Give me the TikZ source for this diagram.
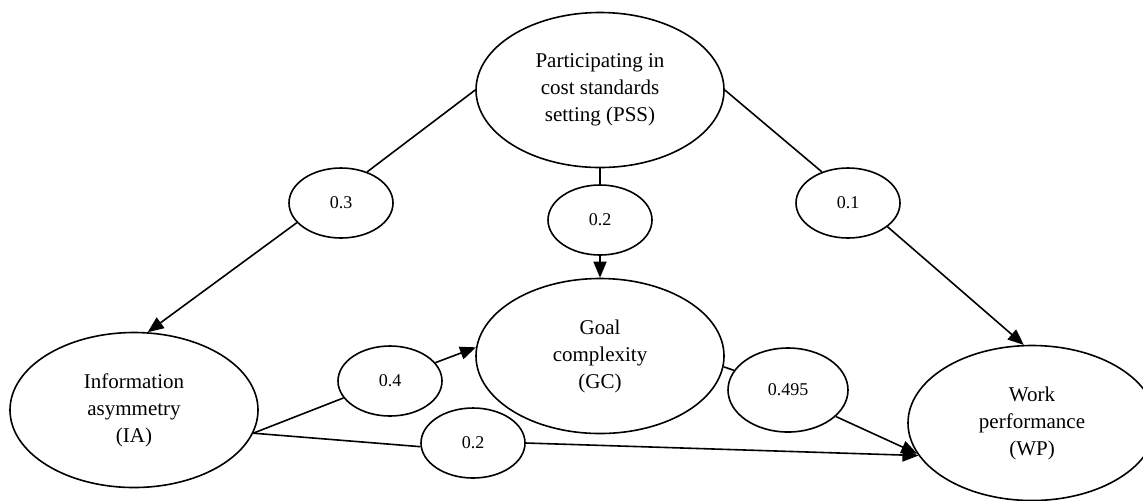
\documentclass[tikz,border=0pt]{standalone}
\usepackage{fontspec}
\setmainfont{Liberation Serif}
\usetikzlibrary{shapes.geometric,arrows.meta}
\begin{document}
\begin{tikzpicture}[x=0.5pt,y=-0.5pt,
  big/.style={ellipse,draw,line width=0.8pt,minimum width=124pt,minimum height=77.5pt,inner sep=0pt,align=center,font=\fontsize{10.5}{13.5}\selectfont},
  coef/.style={ellipse,draw,line width=0.8pt,minimum width=52pt,minimum height=35pt,inner sep=0pt,font=\fontsize{9}{11}\selectfont},
  link/.style={line width=0.8pt},
  arr/.style={line width=0.8pt,-{Triangle[length=8pt,width=6.5pt]}}]
\useasboundingbox (0,0) rectangle (1143,500);
% main constructs
\node[big] (pss) at (600,90) {Participating in\\cost standards\\setting (PSS)};
\node[big] (ia) at (134,410) {Information\\asymmetry\\(IA)};
\node[big] (gc) at (600,356) {Goal\\complexity\\(GC)};
\node[big] (wp) at (1032,423) {Work\\performance\\(WP)};
% coefficients
\node[coef] (c03) at (341,203) {0.3};
\node[coef] (c02) at (600,220) {0.2};
\node[coef] (c01) at (848,203) {0.1};
\node[coef] (c04) at (390,381) {0.4};
\node[coef] (c02b) at (473,443) {0.2};
\node[coef,minimum width=60pt,minimum height=42pt] (c0495) at (788,390) {0.495};
% connectors
\draw[link] (pss.180) -- (c03.50);
\draw[arr] (c03.204) -- (ia.80.5);
\draw[link] (pss.south) -- (c02.north);
\draw[arr] (c02.south) -- (gc.north);
\draw[link] (pss.0) -- (c01.130);
\draw[arr] (c01.329) -- (wp.96.6);
\draw[link] (ia.349) -- (c04.200.7);
\draw[arr] (c04.22) -- (gc.176);
\draw[link] (ia.349) -- (c02b.184);
\draw[arr] (c02b.0) -- (wp.196);
\draw[link] (gc.355) -- (c0495.160);
\draw[arr] (c0495.331) -- (wp.195);
\end{tikzpicture}
\end{document}
